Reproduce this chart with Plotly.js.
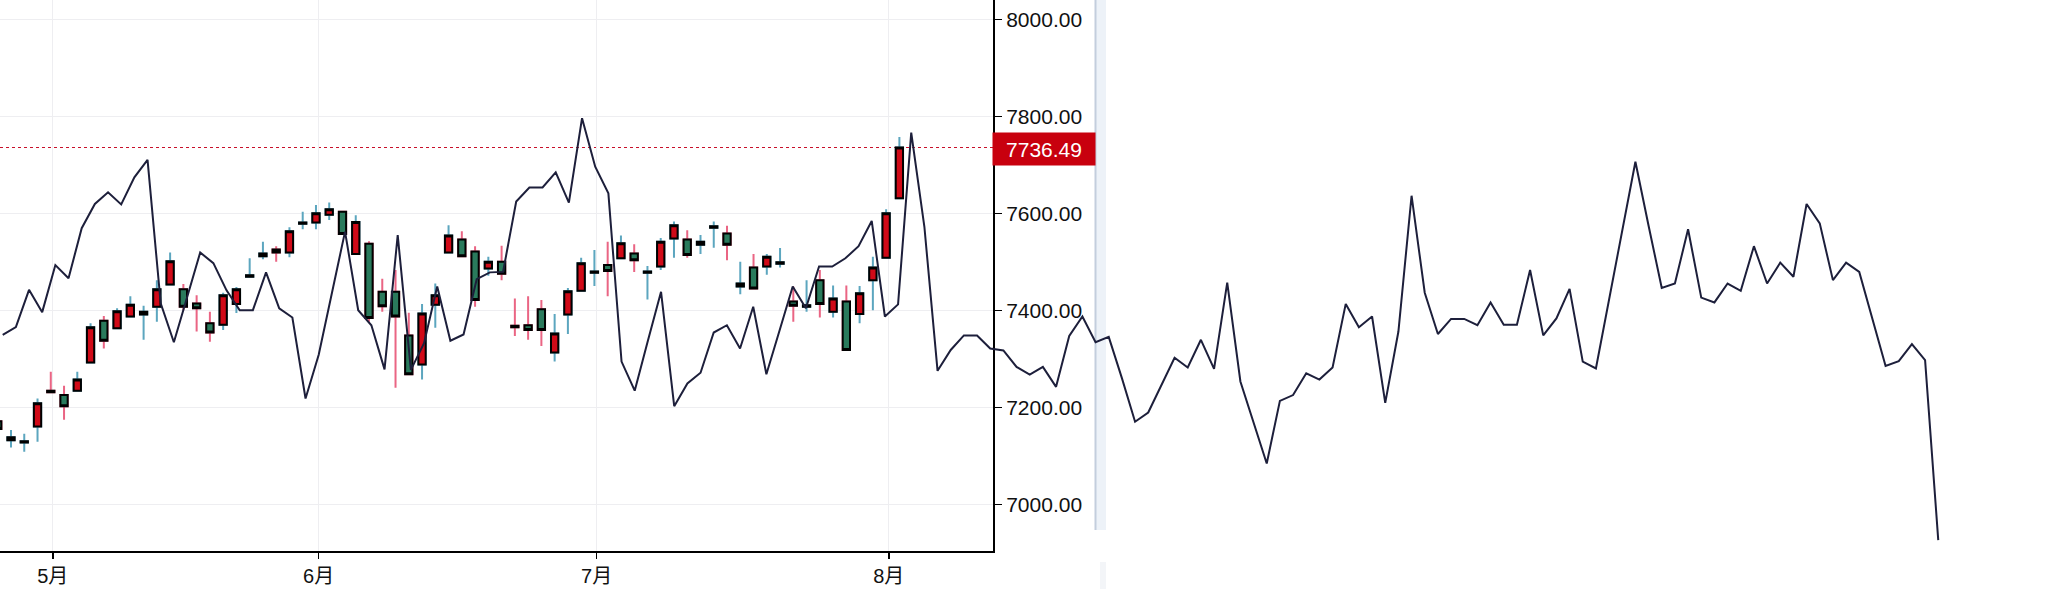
<!DOCTYPE html>
<html><head><meta charset="utf-8">
<script src="https://cdn.plot.ly/plotly-3.0.1.min.js"></script>
<style>html,body{margin:0;padding:0;background:#fff}#chart{width:2064px;height:589px}</style>
</head><body><div id="chart"></div>
<script>
// ---- data ----
const candleOpen  = [7172,7133,7128,7161,7235,7226,7235,7293,7379,7364,7388,7392,7408,7454,7444,7415,7374,7371,7414,7470,7512,7526,7520,7579,7582,7598,7604,7517,7538,7439,7439,7349,7289,7412,7520,7547,7522,7487,7501,7369,7370,7403,7314,7392,7441,7478,7494,7508,7518,7478,7491,7549,7547,7536,7571,7559,7450,7489,7491,7497,7419,7408,7463,7398,7419,7393,7463,7509,7632];
const candleHigh  = [7175,7154,7146,7219,7274,7245,7274,7374,7389,7405,7430,7410,7463,7520,7455,7432,7398,7437,7449,7508,7542,7533,7572,7604,7618,7623,7606,7597,7543,7466,7484,7396,7414,7456,7576,7564,7533,7511,7534,7425,7430,7422,7393,7447,7509,7525,7542,7555,7537,7492,7550,7584,7566,7556,7584,7575,7501,7517,7517,7529,7450,7463,7484,7452,7452,7451,7511,7609,7758];
const candleLow   = [7150,7118,7109,7130,7231,7175,7233,7293,7322,7364,7388,7340,7377,7454,7401,7357,7336,7360,7395,7470,7506,7501,7510,7568,7568,7587,7556,7517,7377,7398,7241,7269,7258,7365,7520,7512,7408,7472,7463,7348,7340,7327,7295,7352,7441,7451,7430,7508,7480,7423,7484,7509,7509,7517,7530,7504,7434,7446,7474,7489,7377,7398,7386,7386,7319,7374,7401,7509,7632];
const candleClose = [7156,7139,7131,7209,7232,7203,7258,7366,7338,7399,7412,7398,7444,7502,7408,7405,7355,7432,7444,7473,7518,7520,7564,7582,7601,7609,7558,7583,7385,7409,7388,7269,7394,7432,7555,7512,7422,7501,7476,7366,7360,7360,7353,7440,7498,7481,7482,7539,7504,7481,7542,7576,7515,7542,7574,7536,7456,7446,7511,7500,7410,7411,7414,7425,7319,7436,7489,7601,7736.49];
const lineValues = [7350,7366,7443,7397,7494,7467,7570,7620,7644,7619,7675,7711,7415,7335,7427,7520,7498,7442,7401,7401,
  7479,7405,7386,7219,7309,7436,7563,7401,7370,7279,7556,7278,7333,7450,7338,7351,7465,7479,7480,7625,
  7654,7654,7685,7623,7797,7697,7642,7295,7235,7338,7439,7203,7250,7272,7355,7370,7322,7408,7269,7359,
  7450,7405,7491,7491,7508,7533,7585,7388,7413,7767,7573,7276,7319,7349,7349,7322,7318,7284,7268,7284,
  7243,7348,7388,7335,7346,7261,7171,7190,7247,7303,7283,7340,7280,7458,7254,7171,7085,7214,7226,7271,
  7258,7283,7414,7366,7388,7210,7357,7637,7437,7352,7383,7383,7370,7417,7371,7371,7484,7349,7384,7445,
  7295,7281,7423,7566,7707,7575,7447,7456,7568,7427,7417,7456,7441,7533,7456,7499,7470,7620,7580,7463,
  7499,7480,7383,7286,7296,7331,7298,6927];
const monthTickPos = [4.15, 24.2, 45.17, 67.2];
const monthLabels = ['5月', '6月', '7月', '8月'];
const priceTicks = [7000, 7200, 7400, 7600, 7800, 8000];
const lastPrice = 7736.49;

// ---- derived ----
const candleX = candleOpen.map((_, i) => i);
const bodyHigh = candleOpen.map((o, i) => Math.max(o, candleClose[i]));
const bodyLow = candleOpen.map((o, i) => Math.min(o, candleClose[i]));
const lineX = lineValues.map((_, i) => i);

const RED = '#d00a18', GREEN = '#2a7a5c', TEAL = '#5ca6bf', PINK = '#ea6584';
const YR = [6904.5, 8040.6];
const YDOM = [38/589, 1];

const traces = [
  { // wicks
    type: 'candlestick', x: candleX, open: candleOpen, high: candleHigh, low: candleLow, close: candleClose,
    xaxis: 'x', yaxis: 'y', whiskerwidth: 0,
    increasing: {line: {color: TEAL, width: 2}, fillcolor: 'rgba(0,0,0,0)'},
    decreasing: {line: {color: PINK, width: 2}, fillcolor: 'rgba(0,0,0,0)'},
    hoverinfo: 'skip', showlegend: false
  },
  { // bodies
    type: 'candlestick', x: candleX, open: candleOpen, high: bodyHigh, low: bodyLow, close: candleClose,
    xaxis: 'x', yaxis: 'y', whiskerwidth: 0,
    increasing: {line: {color: '#000', width: 2}, fillcolor: RED},
    decreasing: {line: {color: '#000', width: 2}, fillcolor: GREEN},
    hoverinfo: 'skip', showlegend: false
  },
  {
    type: 'scatter', mode: 'lines', x: lineX, y: lineValues, xaxis: 'x2', yaxis: 'y2',
    line: {color: '#1d1f3b', width: 2}, hoverinfo: 'skip', showlegend: false
  }
];

const layout = {
  width: 2064, height: 589,
  margin: {l: 0, r: 0, t: 0, b: 0, pad: 0},
  paper_bgcolor: '#ffffff', plot_bgcolor: 'rgba(0,0,0,0)',
  showlegend: false, hovermode: false,
  boxgap: 0.45, boxgroupgap: 0, boxmode: 'overlay',
  font: {family: 'Liberation Sans, Arial, Noto Sans CJK SC, sans-serif', color: '#111'},
  xaxis: {
    domain: [0, 993/2064], range: [0.1704, 75.06], anchor: 'y',
    tickmode: 'array', tickvals: monthTickPos, ticktext: monthLabels,
    showgrid: true, gridcolor: '#eeeef1', gridwidth: 1,
    showline: true, linecolor: '#000', linewidth: 2,
    ticks: 'outside', ticklen: 6, tickwidth: 1.5, tickcolor: '#000',
    tickfont: {size: 20, family: 'Liberation Sans, Noto Sans CJK SC, sans-serif', color: '#111'},
    zeroline: false, rangeslider: {visible: false}, fixedrange: true
  },
  yaxis: {
    domain: YDOM, range: YR, side: 'right', anchor: 'x',
    tickmode: 'array', tickvals: priceTicks, tickformat: '.2f',
    showgrid: true, gridcolor: '#eeeef1', gridwidth: 1,
    showline: true, linecolor: '#000', linewidth: 2,
    ticks: 'outside', ticklen: 7, tickwidth: 1.5, tickcolor: '#000',
    tickfont: {size: 21, color: '#111'}, zeroline: false, fixedrange: true
  },
  xaxis2: {domain: [0, 1], range: [-0.205, 156.55], anchor: 'y2', visible: false, showgrid: false, zeroline: false, fixedrange: true},
  yaxis2: {domain: YDOM, range: YR, anchor: 'x2', visible: false, showgrid: false, zeroline: false, fixedrange: true},
  shapes: [
    {type: 'rect', xref: 'paper', yref: 'paper', x0: 1095/2064, x1: 1106/2064, y0: 59/589, y1: 1,
     fillcolor: '#edf2f8', line: {width: 0}, layer: 'below'},
    {type: 'line', xref: 'paper', yref: 'paper', x0: 1095.5/2064, x1: 1095.5/2064, y0: 59/589, y1: 1,
     line: {color: '#c3cedd', width: 2}, layer: 'below'},
    {type: 'rect', xref: 'paper', yref: 'paper', x0: 1100/2064, x1: 1106/2064, y0: 0, y1: 27/589,
     fillcolor: '#f3f5f8', line: {width: 0}, layer: 'below'},
    {type: 'line', xref: 'paper', yref: 'y', x0: 0, x1: 993/2064, y0: lastPrice, y1: lastPrice,
     line: {color: '#c8102a', width: 1.2, dash: 'dot'}, layer: 'below'}
  ],
  annotations: [
    {xref: 'paper', x: 992/2064, xanchor: 'left', yref: 'y', y: lastPrice, yanchor: 'middle',
     text: lastPrice.toFixed(2), showarrow: false, font: {color: '#ffffff', size: 21},
     bgcolor: '#c8000e', borderpad: 3, width: 96, height: 26, yshift: -2}
  ]
};

Plotly.newPlot('chart', traces, layout, {staticPlot: true, displayModeBar: false});
</script>
</body></html>
